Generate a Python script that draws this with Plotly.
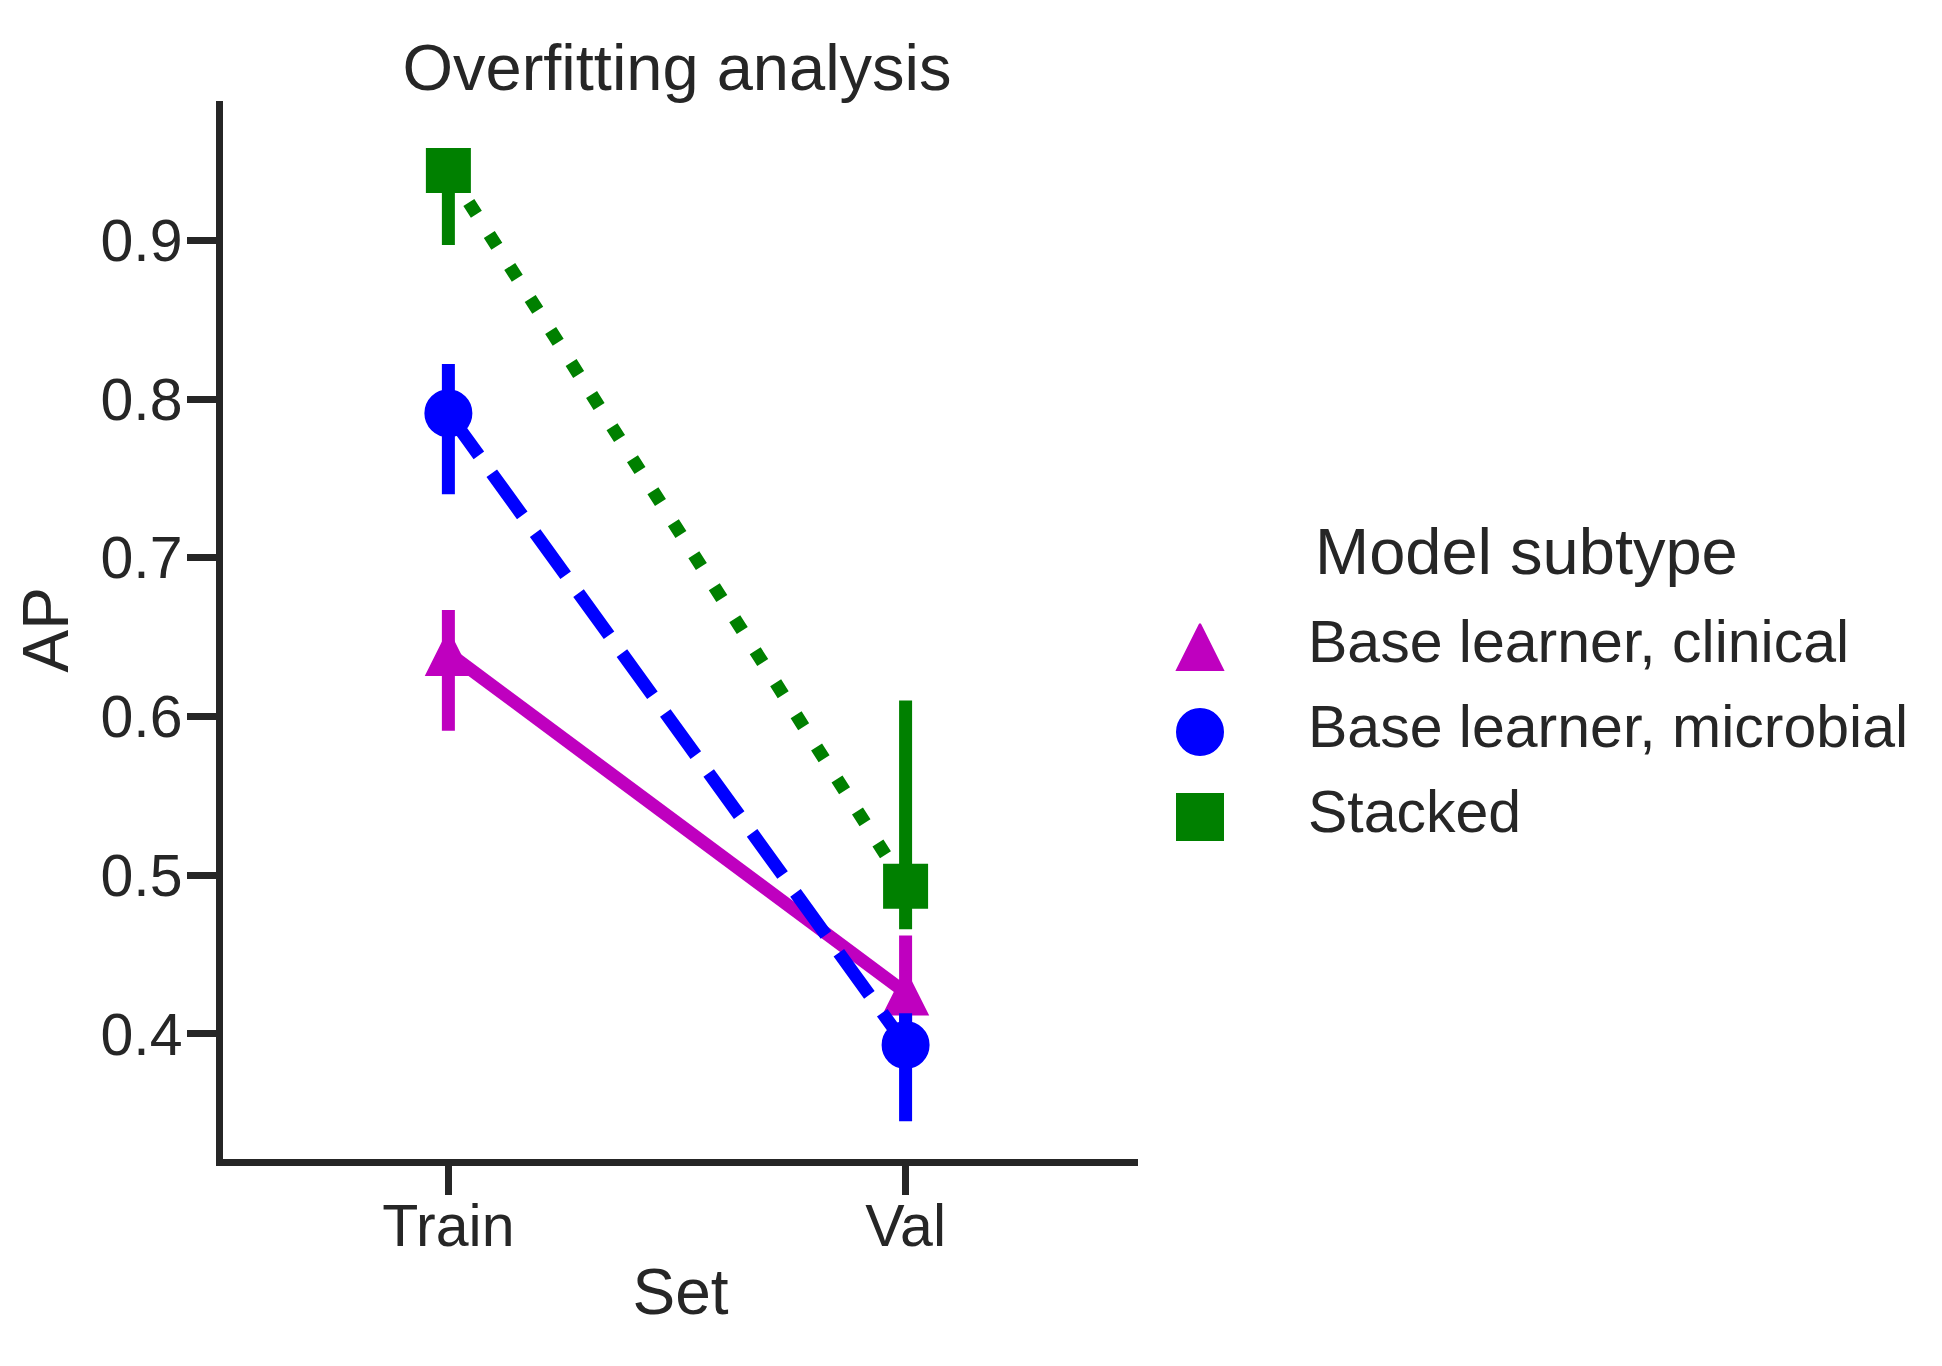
import plotly.graph_objects as go

# ---- data ----
sets = ["Train", "Val"]
subtypes = ["Base learner, clinical", "Base learner, microbial", "Stacked"]

ap_clinical = [0.640, 0.426]
ap_clinical_lo = [0.591, 0.392]
ap_clinical_hi = [0.667, 0.462]

ap_microbial = [0.791, 0.393]
ap_microbial_lo = [0.740, 0.345]
ap_microbial_hi = [0.822, 0.413]

ap_stacked = [0.944, 0.493]
ap_stacked_lo = [0.897, 0.466]
ap_stacked_hi = [0.958, 0.610]

y_ticks = [0.4, 0.5, 0.6, 0.7, 0.8, 0.9]
y_tick_labels = ["0.4", "0.5", "0.6", "0.7", "0.8", "0.9"]

# ---- styling ----
W, H = 1942, 1366
FONT = "Liberation Sans, Arial, sans-serif"
TXT = "#262626"
colors = ["#BF00BF", "#0000FF", "#008000"]
# a tall, centred upward triangle: arrow-down turned 180 deg and pushed back by half its size
symbols = ["arrow-down", "circle", "square"]
angles = [180, 0, 0]
msizes = [44, 46, 43]
dashes = ["solid", "52px,22px", "14px,24px"]
LW = 13
AXW = 7

# plot area in pixels (inner edge of the axis lines)
SHIFT = 7.4
PX_L, PX_R, PX_T, PX_B = 222.7 - SHIFT, 1137.3 - SHIFT, 100 - SHIFT, 1158.2 - SHIFT
TITLE_CX = 676.4 - SHIFT


def px(x):
    return x / W


def py(y):
    return 1 - y / H


def marker(i, size):
    m = dict(symbol=symbols[i], size=size, color=colors[i],
             line=dict(color=colors[i], width=2), angle=angles[i])
    if symbols[i].startswith("arrow"):
        m["standoff"] = size / 2
    return m


series = [
    (ap_clinical, ap_clinical_lo, ap_clinical_hi),
    (ap_microbial, ap_microbial_lo, ap_microbial_hi),
    (ap_stacked, ap_stacked_lo, ap_stacked_hi),
]

fig = go.Figure()
for i, (vals, lo, hi) in enumerate(series):
    fig.add_trace(go.Scatter(
        x=sets, y=vals, mode="lines+markers", name=subtypes[i],
        line=dict(color=colors[i], width=LW, dash=dashes[i], backoff=0),
        marker=marker(i, msizes[i]),
        error_y=dict(type="data", symmetric=False,
                     array=[h - v for h, v in zip(hi, vals)],
                     arrayminus=[v - l for v, l in zip(vals, lo)],
                     color=colors[i], thickness=LW, width=0),
        showlegend=False, xaxis="x", yaxis="y",
    ))

# custom legend (large markers) on an overlay axis in pixel units
LEG_MX, LEG_TX, LEG_Y0, LEG_DY = 1192, 1298, 639, 85
TXT_DY = -5
for i, name in enumerate(subtypes):
    fig.add_trace(go.Scatter(
        x=[LEG_MX], y=[LEG_Y0 + i * LEG_DY], mode="markers",
        marker=marker(i, 46),
        showlegend=False, hoverinfo="skip", xaxis="x2", yaxis="y2",
        cliponaxis=False,
    ))
    fig.add_annotation(x=LEG_TX, y=LEG_Y0 + i * LEG_DY + TXT_DY, xref="x2", yref="y2",
                       text=name, showarrow=False, xanchor="left", yanchor="middle",
                       font=dict(family=FONT, size=59, color=TXT))
fig.add_annotation(x=1518, y=543, xref="x2", yref="y2", text="Model subtype",
                   showarrow=False, xanchor="center", yanchor="middle",
                   font=dict(family=FONT, size=65, color=TXT))

fig.update_layout(
    width=W, height=H,
    margin=dict(l=0, r=0, t=0, b=0, autoexpand=False),
    paper_bgcolor="white", plot_bgcolor="rgba(0,0,0,0)",
    font=dict(family=FONT, color=TXT, size=59),
    title=dict(text="Overfitting analysis", x=px(TITLE_CX), xanchor="center",
               xref="paper", y=py(59), yanchor="middle", yref="container",
               font=dict(family=FONT, size=65, color=TXT)),
    xaxis=dict(
        domain=[px(PX_L), px(PX_R)], anchor="y",
        type="category", categoryorder="array", categoryarray=sets,
        range=[-0.4923, 1.5081], showgrid=False, zeroline=False,
        showline=True, linewidth=AXW, linecolor=TXT,
        ticks="outside", ticklen=29, tickwidth=AXW, tickcolor=TXT,
        tickfont=dict(family=FONT, size=59, color=TXT), ticklabelstandoff=-20,
        title=dict(text="Set", font=dict(family=FONT, size=64, color=TXT), standoff=14),
        automargin=False, fixedrange=True,
    ),
    yaxis=dict(
        domain=[py(PX_B), py(PX_T)], anchor="x",
        range=[0.3213, 0.9880], tickvals=y_ticks, ticktext=y_tick_labels,
        showgrid=False, zeroline=False,
        showline=True, linewidth=AXW, linecolor=TXT,
        ticks="outside", ticklen=29, tickwidth=AXW, tickcolor=TXT,
        tickfont=dict(family=FONT, size=59, color=TXT), ticklabelstandoff=-7,
        title=dict(text="AP", font=dict(family=FONT, size=64, color=TXT), standoff=14),
        automargin=False, fixedrange=True,
    ),
    xaxis2=dict(domain=[0, 1], range=[0, W], visible=False, anchor="y2",
                fixedrange=True),
    yaxis2=dict(domain=[0, 1], range=[H, 0], visible=False, anchor="x2",
                fixedrange=True),
)

fig.write_html("out.html")
